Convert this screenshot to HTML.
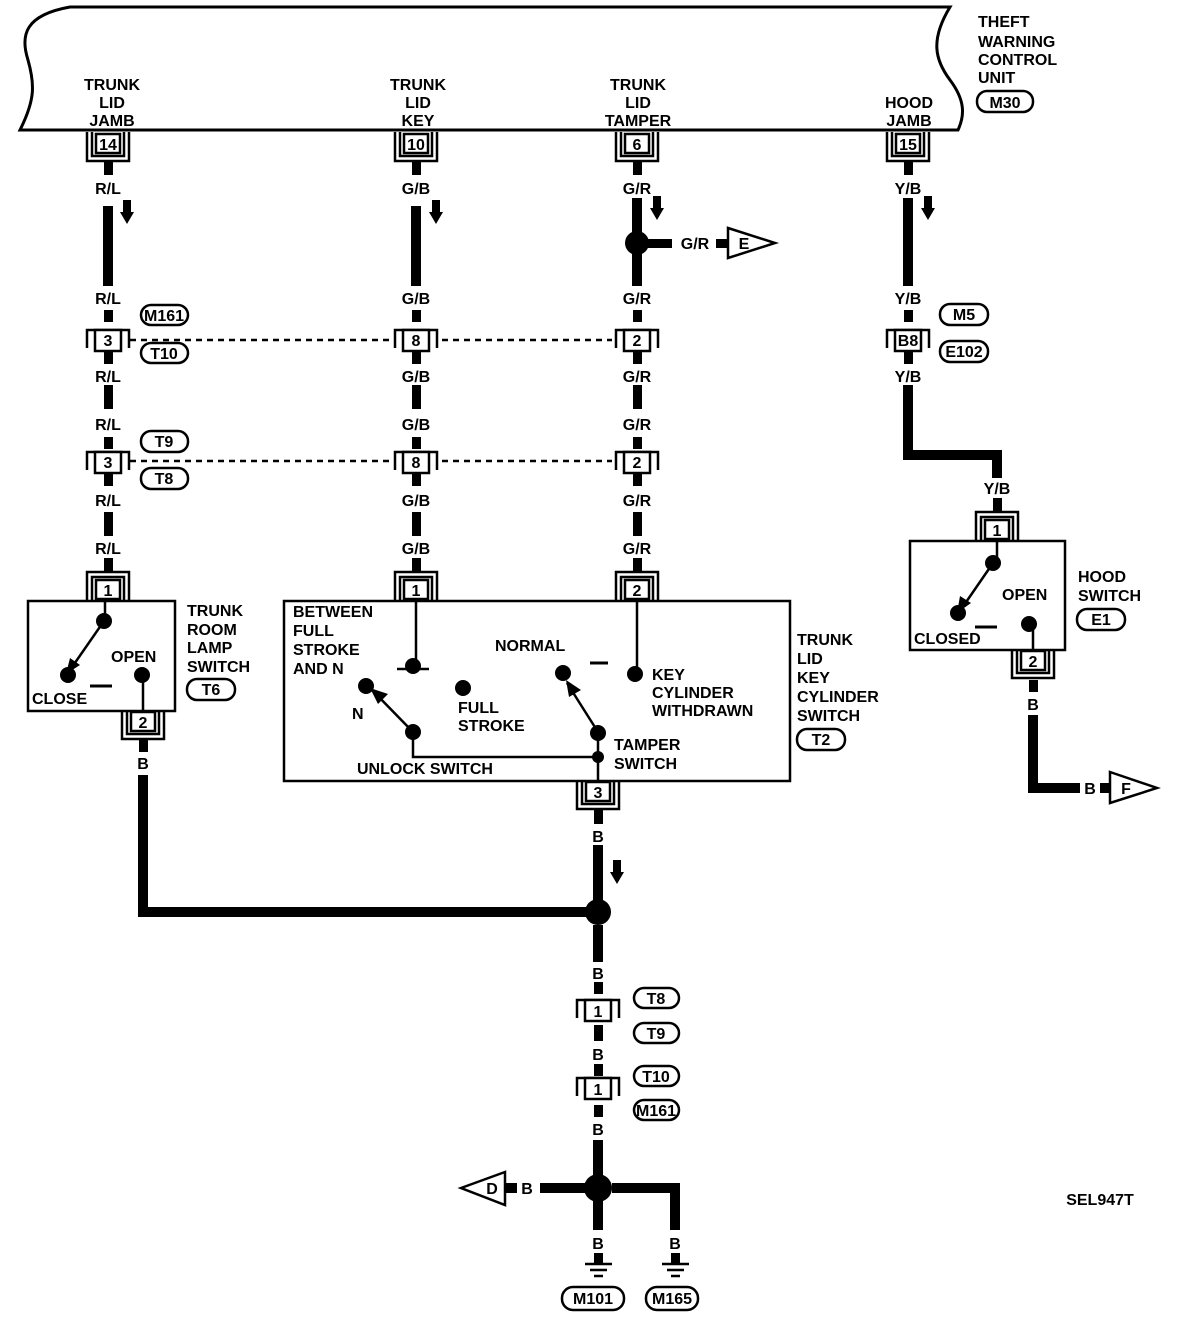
<!DOCTYPE html>
<html><head><meta charset="utf-8"><style>
html,body{margin:0;padding:0;background:#fff}
svg{display:block}
text{font-family:"Liberation Sans",sans-serif;font-weight:bold;font-size:16px;fill:#000;text-anchor:middle}
.l{text-anchor:start}
</style></head><body>
<svg width="1184" height="1320" viewBox="0 0 1184 1320" xmlns="http://www.w3.org/2000/svg">
<defs>
<!-- connector with U below (box top at y=0) -->
<g id="cu"><path d="M-21,-1 V28 H21 V-1 M-16,-1 V23 H16 V-1" fill="none" stroke="#000" stroke-width="2.5"/><rect x="-12" y="1" width="24" height="19" fill="#fff" stroke="#000" stroke-width="2.5"/></g>
<!-- connector with cap above (box bottom at y=0) -->
<g id="cd"><path d="M-21,1 V-28 H21 V1 M-16,1 V-23 H16 V1" fill="none" stroke="#000" stroke-width="2.5"/><rect x="-12" y="-20" width="24" height="19" fill="#fff" stroke="#000" stroke-width="2.5"/></g>
<!-- inline connector centered -->
<g id="ci"><path d="M-21,8 V-10 H21 V8" fill="none" stroke="#000" stroke-width="2.5"/><rect x="-13" y="-10" width="26" height="21" fill="#fff" stroke="#000" stroke-width="2.5"/></g>
<g id="cb"><path d="M-21,-8 V13 H21 V-8" fill="none" stroke="#000" stroke-width="2.5"/><rect x="-13" y="-11" width="26" height="21" fill="#fff" stroke="#000" stroke-width="2.5"/></g>
<path id="arr" d="M-4,0 V12 H-7 L0,24 L7,12 H4 V0 Z"/>
</defs>

<!-- header -->
<path d="M70,7 H950 C930,40 935,60 950,80 C965,100 965,115 958,130 H20 C35,100 35,85 28,60 C20,35 25,15 70,7 Z" fill="none" stroke="#000" stroke-width="3"/>
<text x="112" y="90">TRUNK</text><text x="112" y="108">LID</text><text x="112" y="126">JAMB</text>
<text x="418" y="90">TRUNK</text><text x="418" y="108">LID</text><text x="418" y="126">KEY</text>
<text x="638" y="90">TRUNK</text><text x="638" y="108">LID</text><text x="638" y="126">TAMPER</text>
<text x="909" y="108">HOOD</text><text x="909" y="126">JAMB</text>
<text class="l" x="978" y="27">THEFT</text><text class="l" x="978" y="47">WARNING</text><text class="l" x="978" y="65">CONTROL</text><text class="l" x="978" y="83">UNIT</text>
<rect x="977" y="91" width="56" height="21" rx="10" fill="none" stroke="#000" stroke-width="2.5"/><text x="1005" y="108">M30</text>

<!-- header connectors -->
<use href="#cu" x="108" y="133"/><text x="108" y="150" font-size="14">14</text>
<use href="#cu" x="416" y="133"/><text x="416" y="150" font-size="14">10</text>
<use href="#cu" x="637" y="133"/><text x="637" y="150" font-size="14">6</text>
<use href="#cu" x="908" y="133"/><text x="908" y="150" font-size="14">15</text>

<g fill="#000">
<!-- stubs & thick wires column 1..3 -->
<rect x="104" y="161" width="9" height="14"/><rect x="412" y="161" width="9" height="14"/><rect x="633" y="161" width="9" height="14"/><rect x="904" y="161" width="9" height="14"/>
<rect x="103" y="206" width="10" height="80"/><rect x="411" y="206" width="10" height="80"/><rect x="632" y="198" width="10" height="88"/><rect x="903" y="198" width="10" height="88"/>
<use href="#arr" x="127" y="200"/><use href="#arr" x="436" y="200"/><use href="#arr" x="657" y="196"/><use href="#arr" x="928" y="196"/>
<circle cx="637" cy="243" r="12"/>
<rect x="648" y="239" width="24" height="9"/><rect x="716" y="239" width="12" height="9"/>
<!-- row1 stubs -->
<rect x="104" y="310" width="9" height="12"/><rect x="412" y="310" width="9" height="12"/><rect x="633" y="310" width="9" height="12"/><rect x="904" y="310" width="9" height="12"/>
<rect x="104" y="352" width="9" height="12"/><rect x="412" y="352" width="9" height="12"/><rect x="633" y="352" width="9" height="12"/><rect x="904" y="352" width="9" height="12"/>
<rect x="104" y="385" width="9" height="24"/><rect x="412" y="385" width="9" height="24"/><rect x="633" y="385" width="9" height="24"/>
<rect x="104" y="437" width="9" height="12"/><rect x="412" y="437" width="9" height="12"/><rect x="633" y="437" width="9" height="12"/>
<rect x="104" y="474" width="9" height="12"/><rect x="412" y="474" width="9" height="12"/><rect x="633" y="474" width="9" height="12"/>
<rect x="104" y="512" width="9" height="24"/><rect x="412" y="512" width="9" height="24"/><rect x="633" y="512" width="9" height="24"/>
<rect x="104" y="558" width="9" height="14"/><rect x="412" y="558" width="9" height="14"/><rect x="633" y="558" width="9" height="14"/>
<!-- hood Y/B wire -->
<path d="M903,385 H913 V450 H1002 V478 H992 V460 H903 Z"/>
<rect x="993" y="498" width="9" height="14"/>
</g>
<text x="108" y="194">R/L</text><text x="416" y="194">G/B</text><text x="637" y="194">G/R</text><text x="908" y="194">Y/B</text>
<text x="695" y="249">G/R</text>
<path d="M728,228 L775,243 L728,258 Z" fill="#fff" stroke="#000" stroke-width="2.5"/><text x="744" y="249" font-size="14">E</text>

<text x="108" y="304">R/L</text><text x="416" y="304">G/B</text><text x="637" y="304">G/R</text><text x="908" y="304">Y/B</text>
<use href="#ci" x="108" y="340"/><text x="108" y="346" font-size="14">3</text>
<use href="#ci" x="416" y="340"/><text x="416" y="346" font-size="14">8</text>
<use href="#ci" x="637" y="340"/><text x="637" y="346" font-size="14">2</text>
<use href="#ci" x="908" y="340"/><text x="908" y="346" font-size="14">B8</text>
<path d="M130,340 H392 M442,340 H612" stroke="#000" stroke-width="2.5" stroke-dasharray="6,5"/>
<rect x="141" y="305" width="47" height="20" rx="10" fill="none" stroke="#000" stroke-width="2.5"/><text x="164" y="321" font-size="13">M161</text>
<rect x="141" y="343" width="47" height="20" rx="10" fill="none" stroke="#000" stroke-width="2.5"/><text x="164" y="359" font-size="14">T10</text>
<rect x="940" y="304" width="48" height="21" rx="10" fill="none" stroke="#000" stroke-width="2.5"/><text x="964" y="320" font-size="14">M5</text>
<rect x="940" y="341" width="48" height="21" rx="10" fill="none" stroke="#000" stroke-width="2.5"/><text x="964" y="357" font-size="13">E102</text>
<text x="108" y="382">R/L</text><text x="416" y="382">G/B</text><text x="637" y="382">G/R</text><text x="908" y="382">Y/B</text>

<text x="108" y="430">R/L</text><text x="416" y="430">G/B</text><text x="637" y="430">G/R</text>
<use href="#ci" x="108" y="462"/><text x="108" y="468" font-size="14">3</text>
<use href="#ci" x="416" y="462"/><text x="416" y="468" font-size="14">8</text>
<use href="#ci" x="637" y="462"/><text x="637" y="468" font-size="14">2</text>
<path d="M130,461 H392 M442,461 H612" stroke="#000" stroke-width="2.5" stroke-dasharray="6,5"/>
<rect x="141" y="431" width="47" height="21" rx="10" fill="none" stroke="#000" stroke-width="2.5"/><text x="164" y="447" font-size="14">T9</text>
<rect x="141" y="468" width="47" height="21" rx="10" fill="none" stroke="#000" stroke-width="2.5"/><text x="164" y="484" font-size="14">T8</text>
<text x="108" y="506">R/L</text><text x="416" y="506">G/B</text><text x="637" y="506">G/R</text>
<text x="108" y="554">R/L</text><text x="416" y="554">G/B</text><text x="637" y="554">G/R</text>
<text x="997" y="494">Y/B</text>

<!-- trunk room lamp switch -->
<use href="#cd" x="108" y="600"/><text x="108" y="596" font-size="14">1</text>
<rect x="28" y="601" width="147" height="110" fill="none" stroke="#000" stroke-width="2.5"/>
<use href="#cu" x="143" y="711"/><text x="143" y="728" font-size="14">2</text>
<g stroke="#000" stroke-width="2.5" fill="#000">
<line x1="105" y1="601" x2="105" y2="620"/>
<line x1="104" y1="621" x2="70" y2="670"/>
<line x1="143" y1="675" x2="143" y2="711"/>
<line x1="90" y1="686" x2="112" y2="686" stroke-width="3"/>
</g>
<g fill="#000"><circle cx="104" cy="621" r="8"/><circle cx="68" cy="675" r="8"/><circle cx="142" cy="675" r="8"/><path d="M66,674 L70,658 L80,665 Z"/>
<rect x="139" y="740" width="9" height="12"/>
<path d="M138,775 H148 V907 H598 V917 H138 Z"/></g>
<text class="l" x="32" y="704">CLOSE</text><text class="l" x="111" y="662">OPEN</text>
<text class="l" x="187" y="616">TRUNK</text><text class="l" x="187" y="635">ROOM</text><text class="l" x="187" y="653">LAMP</text><text class="l" x="187" y="672">SWITCH</text>
<rect x="187" y="679" width="48" height="21" rx="10" fill="none" stroke="#000" stroke-width="2.5"/><text x="211" y="695" font-size="14">T6</text>
<text x="143" y="769">B</text>

<!-- key cylinder switch -->
<use href="#cd" x="416" y="600"/><text x="416" y="596" font-size="14">1</text>
<use href="#cd" x="637" y="600"/><text x="637" y="596" font-size="14">2</text>
<rect x="284" y="601" width="506" height="180" fill="none" stroke="#000" stroke-width="2.5"/>
<use href="#cu" x="598" y="781"/><text x="598" y="798" font-size="14">3</text>
<g stroke="#000" stroke-width="2.5" fill="none">
<path d="M416,601 V665 M637,601 V672 M413,732 V757 H598 M598,732 V781"/>
<path d="M397,669 L429,669" />
<line x1="413" y1="732" x2="372" y2="690"/>
<line x1="598" y1="732" x2="567" y2="683"/>
<line x1="590" y1="663" x2="608" y2="663" stroke-width="3"/>
</g>
<g fill="#000"><circle cx="413" cy="666" r="8"/><circle cx="366" cy="686" r="8"/><circle cx="463" cy="688" r="8"/><circle cx="413" cy="732" r="8"/><circle cx="563" cy="673" r="8"/><circle cx="635" cy="674" r="8"/><circle cx="598" cy="733" r="8"/><circle cx="598" cy="757" r="6"/>
<path d="M370,688 L388,694 L378,704 Z"/><path d="M566,680 L581,690 L569,697 Z"/>
<rect x="594" y="810" width="9" height="14"/>
<rect x="593" y="845" width="10" height="55"/>
<use href="#arr" x="617" y="860"/>
<circle cx="598" cy="912" r="13"/>
<rect x="593" y="925" width="10" height="37"/>
<rect x="594" y="982" width="9" height="12"/><rect x="594" y="1025" width="9" height="16"/>
<rect x="594" y="1064" width="9" height="12"/><rect x="594" y="1105" width="9" height="12"/>
<rect x="593" y="1140" width="10" height="40"/>
<circle cx="598" cy="1188" r="14"/>
<rect x="540" y="1183" width="45" height="10"/><rect x="503" y="1183" width="14" height="10"/>
<path d="M612,1183 H680 V1230 H670 V1193 H612 Z"/>
<rect x="593" y="1200" width="10" height="30"/>
<rect x="594" y="1253" width="9" height="10"/><rect x="671" y="1253" width="9" height="10"/>
</g>
<text class="l" x="293" y="617">BETWEEN</text><text class="l" x="293" y="636">FULL</text><text class="l" x="293" y="655">STROKE</text><text class="l" x="293" y="674">AND N</text>
<text class="l" x="495" y="651">NORMAL</text>
<text class="l" x="352" y="719">N</text>
<text class="l" x="458" y="713">FULL</text><text class="l" x="458" y="731">STROKE</text>
<text class="l" x="652" y="680">KEY</text><text class="l" x="652" y="698">CYLINDER</text><text class="l" x="652" y="716">WITHDRAWN</text>
<text class="l" x="614" y="750">TAMPER</text><text class="l" x="614" y="769">SWITCH</text>
<text class="l" x="357" y="774">UNLOCK SWITCH</text>
<text class="l" x="797" y="645">TRUNK</text><text class="l" x="797" y="664">LID</text><text class="l" x="797" y="683">KEY</text><text class="l" x="797" y="702">CYLINDER</text><text class="l" x="797" y="721">SWITCH</text>
<rect x="797" y="729" width="48" height="21" rx="10" fill="none" stroke="#000" stroke-width="2.5"/><text x="821" y="745" font-size="14">T2</text>

<text x="598" y="842">B</text>
<text x="598" y="979">B</text>
<use href="#ci" x="598" y="1010"/><text x="598" y="1017" font-size="14">1</text>
<rect x="634" y="988" width="45" height="20" rx="10" fill="none" stroke="#000" stroke-width="2.5"/><text x="656" y="1004" font-size="14">T8</text>
<rect x="634" y="1023" width="45" height="20" rx="10" fill="none" stroke="#000" stroke-width="2.5"/><text x="656" y="1039" font-size="14">T9</text>
<text x="598" y="1060">B</text>
<use href="#ci" x="598" y="1088"/><text x="598" y="1095" font-size="14">1</text>
<rect x="634" y="1066" width="45" height="20" rx="10" fill="none" stroke="#000" stroke-width="2.5"/><text x="656" y="1082" font-size="14">T10</text>
<rect x="634" y="1100" width="45" height="20" rx="10" fill="none" stroke="#000" stroke-width="2.5"/><text x="656" y="1116" font-size="13">M161</text>
<text x="598" y="1135">B</text>
<text x="527" y="1194">B</text>
<path d="M461,1188 L505,1172 L505,1205 Z" fill="#fff" stroke="#000" stroke-width="2.5"/><text x="492" y="1194" font-size="14">D</text>
<text x="598" y="1249">B</text><text x="675" y="1249">B</text>
<g stroke="#000" stroke-width="2.5"><path d="M585,1264 H612 M590,1270 H607 M594,1276 H603 M662,1264 H689 M667,1270 H684 M671,1276 H680"/></g>
<rect x="562" y="1287" width="62" height="23" rx="11" fill="none" stroke="#000" stroke-width="2.5"/><text x="593" y="1304" font-size="14">M101</text>
<rect x="646" y="1287" width="52" height="23" rx="11" fill="none" stroke="#000" stroke-width="2.5"/><text x="672" y="1304" font-size="14">M165</text>

<!-- hood switch -->
<use href="#cd" x="997" y="540"/><text x="997" y="536" font-size="14">1</text>
<rect x="910" y="541" width="155" height="109" fill="none" stroke="#000" stroke-width="2.5"/>
<use href="#cu" x="1033" y="650"/><text x="1033" y="667" font-size="14">2</text>
<g stroke="#000" stroke-width="2.5" fill="none"><path d="M997,541 V562 M993,563 L962,608 M1033,624 V650"/><line x1="975" y1="627" x2="997" y2="627" stroke-width="3"/></g>
<g fill="#000"><circle cx="993" cy="563" r="8"/><circle cx="958" cy="613" r="8"/><circle cx="1029" cy="624" r="8"/><path d="M957,613 L960,596 L971,603 Z"/>
<rect x="1029" y="680" width="9" height="12"/>
<path d="M1028,715 H1038 V783 H1080 V793 H1028 Z"/><rect x="1100" y="783" width="10" height="10"/></g>
<text class="l" x="1002" y="600">OPEN</text><text class="l" x="914" y="644">CLOSED</text>
<text class="l" x="1078" y="582">HOOD</text><text class="l" x="1078" y="601">SWITCH</text>
<rect x="1077" y="609" width="48" height="21" rx="10" fill="none" stroke="#000" stroke-width="2.5"/><text x="1101" y="625" font-size="14">E1</text>
<text x="1033" y="710">B</text>
<text x="1090" y="794">B</text>
<path d="M1110,772 L1157,788 L1110,803 Z" fill="#fff" stroke="#000" stroke-width="2.5"/><text x="1126" y="794" font-size="14">F</text>

<text x="1100" y="1205" font-size="15">SEL947T</text>
</svg>
</body></html>
